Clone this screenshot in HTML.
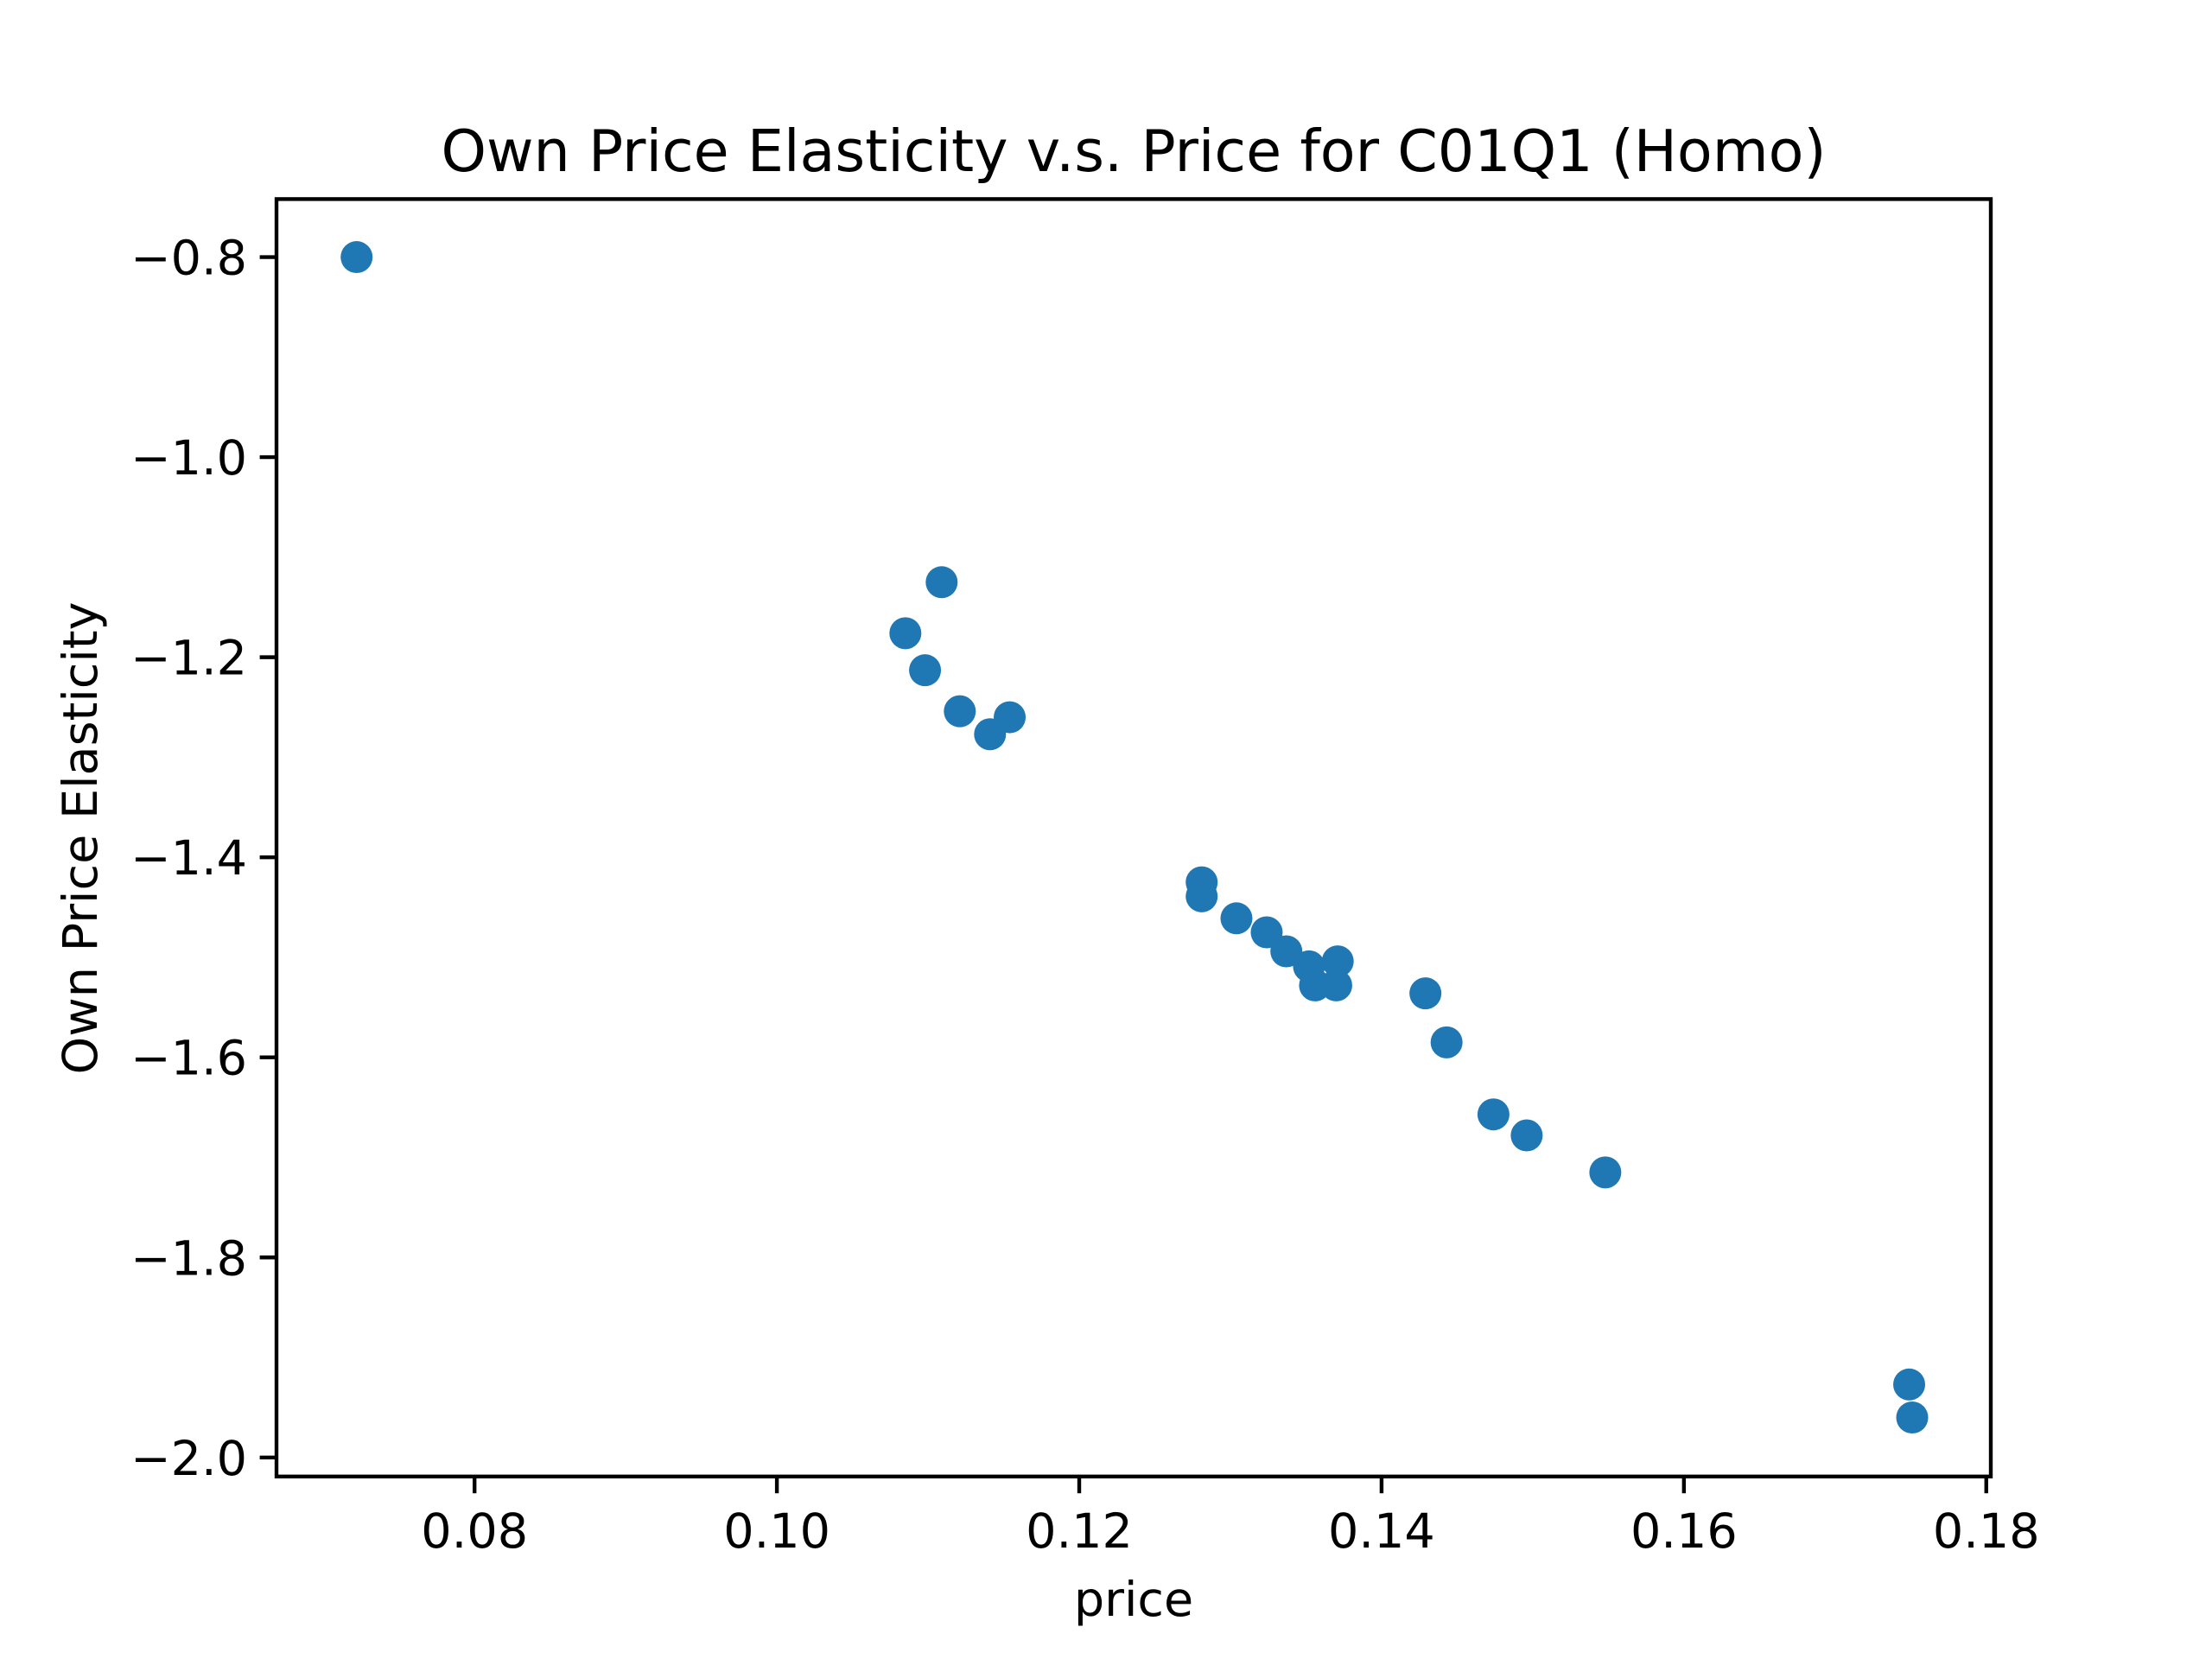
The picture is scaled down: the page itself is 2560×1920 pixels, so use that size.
<!DOCTYPE html>
<html><head><meta charset="utf-8"><style>html,body{margin:0;padding:0;background:#fff}svg{display:block}text{font-family:"DejaVu Sans","Liberation Sans",sans-serif;fill:#000}</style></head>
<body>
<svg id="chart" width="2560" height="1920" viewBox="0 0 2560 1920" xmlns="http://www.w3.org/2000/svg">
<rect width="2560" height="1920" fill="#fff"/>
<text x="1312" y="198" font-size="66.7" text-anchor="middle">Own Price Elasticity v.s. Price for C01Q1 (Homo)</text>
<text x="1312" y="1870" font-size="55.6" text-anchor="middle">price</text>
<text transform="translate(112,970) rotate(-90)" font-size="55.6" text-anchor="middle">Own Price Elasticity</text>
<g id="marks"></g>
<g id="axes"></g>
</svg>
<script>
const prices = [0.0722,0.1109,0.1085,0.1098,0.1121,0.1154,0.1141,0.1281,0.1281,0.1304,0.1324,0.1337,0.1352,0.1371,0.1356,0.1370,0.1429,0.1443,0.1474,0.1496,0.1548,0.1749,0.1751];
const elasticities = [-0.80,-1.125,-1.176,-1.213,-1.254,-1.260,-1.277,-1.425,-1.439,-1.461,-1.475,-1.494,-1.509,-1.504,-1.528,-1.528,-1.536,-1.585,-1.657,-1.678,-1.715,-1.927,-1.960];
const xTicks = [0.08,0.10,0.12,0.14,0.16,0.18];
const xTickLabels = ["0.08","0.10","0.12","0.14","0.16","0.18"];
const yTicks = [-0.8,-1.0,-1.2,-1.4,-1.6,-1.8,-2.0];
const yTickLabels = ["\u22120.8","\u22121.0","\u22121.2","\u22121.4","\u22121.6","\u22121.8","\u22122.0"];

const L=320,R=2304,T=230.4,B=1708.8;
const xMin=0.0669,xMax=0.1803,yMin=-2.019,yMax=-0.742;
function xs(v){return L+(v-xMin)/(xMax-xMin)*(R-L);}
function ys(v){return B-(v-yMin)/(yMax-yMin)*(B-T);}
const NS="http://www.w3.org/2000/svg";
const marks=document.getElementById('marks');
const axes=document.getElementById('axes');
function mk(tag,attrs,parent){const e=document.createElementNS(NS,tag);for(const k in attrs)e.setAttribute(k,attrs[k]);parent.appendChild(e);return e;}
prices.forEach((p,i)=>{
  const c=mk('circle',{cx:xs(p),cy:ys(elasticities[i]),r:18.5,fill:'#1f77b4'},marks);
  
  
});
const frame=mk('rect',{x:L,y:T,width:R-L,height:B-T,fill:'none',stroke:'#000','stroke-width':4.4},axes);


xTicks.forEach((v,i)=>{
  const x=xs(v);
  const t=mk('line',{x1:x,x2:x,y1:B,y2:B+19.4,stroke:'#000','stroke-width':4.4},axes);
  
  
  const l=mk('text',{x:x,y:B+82,'font-size':55.6,'text-anchor':'middle'},axes);
  l.textContent=xTickLabels[i];
  
  
});
yTicks.forEach((v,i)=>{
  const y=ys(v);
  const t=mk('line',{x1:L-19.4,x2:L,y1:y,y2:y,stroke:'#000','stroke-width':4.4},axes);
  
  
  const l=mk('text',{x:L-34,y:y+20,'font-size':55.6,'text-anchor':'end'},axes);
  l.textContent=yTickLabels[i];
  
  
});
</script>
</body></html>
